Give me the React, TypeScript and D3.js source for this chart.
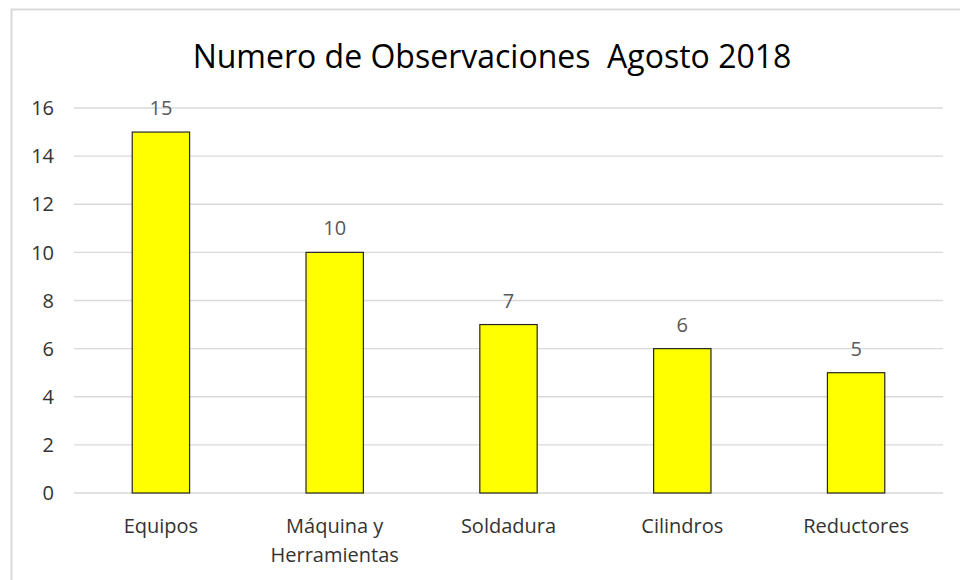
import React from "react";
import * as d3 from "d3";

const categories = ["Equipos", "Máquina y Herramientas", "Soldadura", "Cilindros", "Reductores"];
const categoryLines = [["Equipos"], ["Máquina y", "Herramientas"], ["Soldadura"], ["Cilindros"], ["Reductores"]];
const values = [15, 10, 7, 6, 5];
const yTicks = [0, 2, 4, 6, 8, 10, 12, 14, 16];
const title = "Numero de Observaciones\u00a0\u00a0Agosto 2018";

export default function App() {
  const W = 960, H = 580;
  const left = 74, right = 943, top = 108, bottom = 493;
  const x = d3.scaleBand<string>().domain(categories).range([left, right]).paddingInner(0.67).paddingOuter(0.335);
  const y = d3.scaleLinear().domain([0, 16]).range([bottom, top]);
  const font = "'Open Sans', sans-serif";
  const fs = 20;
  return (
    <svg width={W} height={H} style={{ position: "absolute", left: 0, top: 0, background: "#fff" }} fontFamily={font}>
      <rect x={11.5} y={9.5} width={960} height={600} fill="#fff" stroke="#d9d9d9" strokeWidth={2} />
      <text x={492} y={68} textAnchor="middle" fontSize={32} fill="#000">{title}</text>
      {yTicks.map((t) => (
        <g key={t}>
          <line x1={left} x2={right} y1={y(t)} y2={y(t)} stroke="#d9d9d9" strokeWidth={1.3} />
          <text x={54} y={y(t)} dy="0.36em" textAnchor="end" fontSize={fs} fill="#333">{t}</text>
        </g>
      ))}
      {categories.map((c, i) => {
        const bx = x(c)!;
        const cx = bx + x.bandwidth() / 2;
        return (
          <g key={c}>
            <rect x={bx} y={y(values[i])} width={x.bandwidth()} height={y(0) - y(values[i])} fill="#ffff00" stroke="#262626" strokeWidth={1.2} />
            <text x={cx} y={y(values[i]) - 17} textAnchor="middle" fontSize={fs} fill="#595959">{values[i]}</text>
            {categoryLines[i].map((ln, j) => (
              <text key={j} x={cx} y={533 + j * 29} textAnchor="middle" fontSize={fs} fill="#333">{ln}</text>
            ))}
          </g>
        );
      })}
    </svg>
  );
}
